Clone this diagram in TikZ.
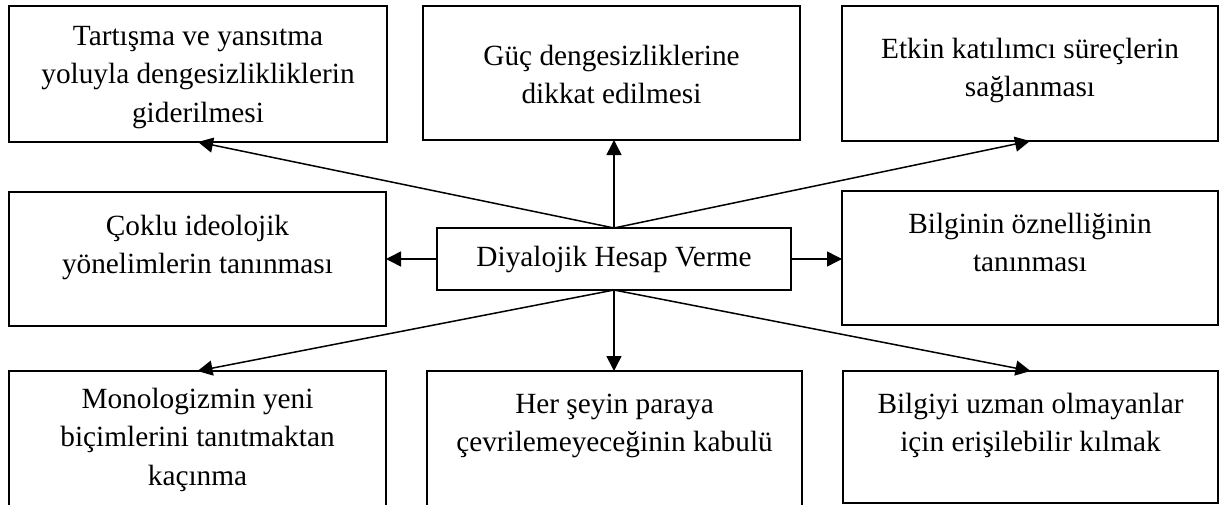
\documentclass[tikz,border=0pt]{standalone}
\usepackage{fontspec}
\setmainfont{Liberation Serif}
\usetikzlibrary{arrows.meta}
\newcommand{\mlines}[1]{\begin{tabular}[t]{@{}c@{}}#1\end{tabular}}
\begin{document}
\begin{tikzpicture}[x=1pt,y=-1pt,
  boxnode/.style={draw,line width=1.8pt,rectangle,inner sep=0pt,outer sep=0pt,anchor=north west},
  txt/.style={anchor=base,inner sep=0pt,font=\fontsize{29.3}{38.5}\selectfont},
  conn/.style={line width=1.5pt,-{Triangle[length=15pt,width=15pt]}}]
\useasboundingbox (0,0) rectangle (1219,504);
% boxes
\node[boxnode,minimum width=378pt,minimum height=136pt] (b1) at (9,6) {};
\node[boxnode,minimum width=377pt,minimum height=134pt] (b2) at (423,6) {};
\node[boxnode,minimum width=376pt,minimum height=135pt] (b3) at (842,6) {};
\node[boxnode,minimum width=377pt,minimum height=134pt] (b4) at (9,192) {};
\node[boxnode,minimum width=354pt,minimum height=62pt] (c) at (437,228) {};
\node[boxnode,minimum width=376pt,minimum height=134pt] (b5) at (842,191) {};
\node[boxnode,minimum width=377pt,minimum height=150pt] (b7) at (9,371) {};
\node[boxnode,minimum width=375pt,minimum height=150pt] (b8) at (427,371) {};
\node[boxnode,minimum width=375pt,minimum height=132pt] (b9) at (843,371) {};
% texts
\node[txt] (t1) at (198,45) {\mlines{Tartışma ve yansıtma\\yoluyla dengesizliklikler\-in\\giderilmesi}};
\node[txt] (t2) at (611.5,65) {\mlines{Güç dengesizliklerine\\dikkat edilmesi}};
\node[txt] (t3) at (1030,58) {\mlines{Etkin katılımcı süreçlerin\\sağlanması}};
\node[txt] (t4) at (197.5,235) {\mlines{Çoklu ideolojik\\yönelimlerin tanınması}};
\node[txt] (tc) at (614,266) {Diyalojik Hesap Verme};
\node[txt] (t5) at (1030,233) {\mlines{Bilginin öznelliğinin\\tanınması}};
\node[txt] (t7) at (197.5,408) {\mlines{Monologizmin yeni\\biçimlerini tanıtmaktan\\kaçınma}};
\node[txt] (t8) at (614.5,413) {\mlines{Her şeyin paraya\\çevrilemeyeceğinin kabulü}};
\node[txt] (t9) at (1030.5,413) {\mlines{Bilgiyi uzman olmayanlar\\için erişilebilir kılmak}};
% connectors
\draw[conn] (c.north) -- (b1.south);
\draw[conn] (c.north) -- (c.north |- b2.south);
\draw[conn] (c.north) -- (b3.south);
\draw[conn] (c.west) -- (c.west -| b4.east);
\draw[conn] (c.east) -- (c.east -| b5.west);
\draw[conn] (c.south) -- (b7.north);
\draw[conn] (c.south) -- (c.south |- b8.north);
\draw[conn] (c.south) -- (b9.north);
\end{tikzpicture}
\end{document}
